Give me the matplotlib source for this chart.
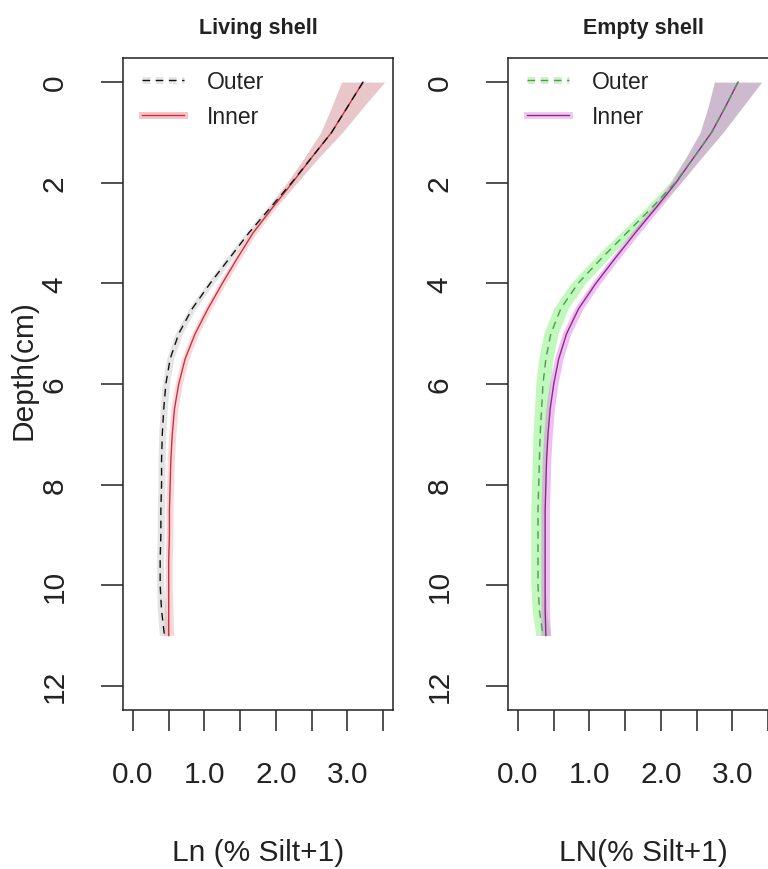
import matplotlib
matplotlib.use("Agg")
import matplotlib.pyplot as plt
from matplotlib.lines import Line2D
import matplotlib.patheffects as pe
import numpy as np

plt.rcParams['font.family'] = ['Liberation Sans', 'DejaVu Sans']

# Depth profile (cm)
depth = [0, 0.5, 1, 1.5, 2, 2.5, 3, 3.5, 4, 4.5, 5, 5.5,
         6, 6.5, 7, 7.5, 8, 8.5, 9, 9.5, 10, 10.5, 11]

# Living shell: fitted Ln(% silt + 1)
living_outer = [3.22, 3.00, 2.78, 2.50, 2.22, 1.92, 1.62, 1.35, 1.08, 0.83, 0.64, 0.52,
                0.46, 0.43, 0.41, 0.40, 0.40, 0.39, 0.39, 0.38, 0.38, 0.40, 0.44]
living_inner = [3.22, 3.00, 2.78, 2.50, 2.23, 1.95, 1.68, 1.46, 1.25, 1.05, 0.87, 0.73,
                0.64, 0.58, 0.55, 0.53, 0.52, 0.51, 0.51, 0.50, 0.50, 0.50, 0.50]
# Empty shell: fitted Ln(% silt + 1)
empty_outer = [3.08, 2.90, 2.71, 2.46, 2.20, 1.87, 1.52, 1.17, 0.84, 0.60, 0.46, 0.39,
               0.35, 0.33, 0.31, 0.30, 0.29, 0.28, 0.28, 0.28, 0.28, 0.30, 0.35]
empty_inner = [3.08, 2.90, 2.71, 2.46, 2.21, 1.93, 1.64, 1.36, 1.09, 0.85, 0.68, 0.57,
               0.50, 0.45, 0.42, 0.40, 0.39, 0.38, 0.38, 0.38, 0.38, 0.38, 0.39]

# Confidence band half-widths
living_outer_ci = [0.30, 0.22, 0.15, 0.10, 0.07, 0.05, 0.05, 0.05, 0.05, 0.05, 0.05, 0.05,
                   0.05, 0.05, 0.05, 0.05, 0.05, 0.05, 0.05, 0.05, 0.05, 0.06, 0.07]
living_inner_ci = [0.30, 0.22, 0.15, 0.10, 0.07, 0.05, 0.05, 0.05, 0.05, 0.05, 0.05, 0.05,
                   0.05, 0.05, 0.05, 0.05, 0.05, 0.05, 0.05, 0.05, 0.05, 0.06, 0.07]
empty_outer_ci = [0.33, 0.24, 0.16, 0.11, 0.08, 0.08, 0.09, 0.10, 0.10, 0.10, 0.10, 0.10,
                  0.10, 0.10, 0.10, 0.10, 0.10, 0.10, 0.10, 0.10, 0.10, 0.10, 0.10]
empty_inner_ci = [0.33, 0.24, 0.16, 0.11, 0.07, 0.06, 0.06, 0.06, 0.06, 0.06, 0.06, 0.06,
                  0.06, 0.06, 0.06, 0.06, 0.06, 0.06, 0.06, 0.06, 0.06, 0.06, 0.07]

x_ticks = [0, 0.5, 1, 1.5, 2, 2.5, 3, 3.5]
x_tick_labels = ["0.0", "", "1.0", "", "2.0", "", "3.0", ""]
y_ticks = [0, 2, 4, 6, 8, 10, 12]

W, H = 768, 870
fig = plt.figure(figsize=(W / 100, H / 100), dpi=100)

ax_w = 270 / W
ax_h = 652 / H
ax_b = 1 - 711 / H
ax1 = fig.add_axes([123 / W, ax_b, ax_w, ax_h])
ax2 = fig.add_axes([508 / W, ax_b, ax_w, ax_h])

DASH = (5.5, 4)
INK = '#222222'

panels = [
    (ax1, "Living shell", "Ln (% Silt+1)",
     living_outer, living_outer_ci, living_inner, living_inner_ci,
     "#111111", "#a8a8a8", 0.30, "#c8343e", "#f09aa2", 0.40,
     "#e6e6e6", "#f7c4c8"),
    (ax2, "Empty shell", "LN(% Silt+1)",
     empty_outer, empty_outer_ci, empty_inner, empty_inner_ci,
     "#4f9a5a", "#66ee55", 0.40, "#8a2a8a", "#e070e8", 0.45,
     "#c8f4c4", "#f2c8f0"),
]

d = np.asarray(depth)
for (ax, title, xlab, outer, outer_ci, inner, inner_ci,
     oc, obc, oba, ic, ibc, iba, ohalo, ihalo) in panels:
    o = np.asarray(outer); oci = np.asarray(outer_ci)
    i = np.asarray(inner); ici = np.asarray(inner_ci)
    ax.fill_betweenx(d, o - oci, o + oci, color=obc, alpha=oba, lw=0)
    ax.fill_betweenx(d, i - ici, i + ici, color=ibc, alpha=iba, lw=0)
    ax.plot(i, d, color=ic, lw=1.0)
    ax.plot(o, d, color=oc, lw=1.0, dashes=DASH)

    ax.set_xlim(-0.14, 3.64)
    ax.set_ylim(12.48, -0.48)
    ax.set_xticks(x_ticks)
    ax.set_xticklabels(x_tick_labels)
    ax.set_yticks(y_ticks)
    ax.tick_params(axis='x', direction='out', length=15, width=1.1,
                   pad=21, labelsize=21.5, colors=INK)
    ax.tick_params(axis='y', direction='out', length=16, width=1.1,
                   pad=23, labelsize=21.5, labelrotation=90, colors=INK)
    for lab in ax.get_yticklabels():
        lab.set_va('center')
    for s in ax.spines.values():
        s.set_linewidth(1.1)
        s.set_color(INK)

    ax.set_title(title, fontsize=15.5, fontweight='bold',
                 family=['Liberation Sans Narrow', 'Liberation Sans'],
                 pad=18, color=INK)
    ax.set_xlabel(xlab, fontsize=21.5, labelpad=36, color=INK)

    handles = [
        Line2D([], [], color=oc, lw=1.0, dashes=DASH,
               path_effects=[pe.Stroke(linewidth=5, foreground=ohalo), pe.Normal()]),
        Line2D([], [], color=ic, lw=1.0,
               path_effects=[pe.Stroke(linewidth=5, foreground=ihalo), pe.Normal()]),
    ]
    ax.legend(handles, ["Outer", "Inner"], loc='upper left',
              bbox_to_anchor=(0.035, 0.995), borderaxespad=0, frameon=False,
              fontsize=16.5, handlelength=1.85, handletextpad=1.0,
              labelspacing=0.5, labelcolor=INK)

fig.text(24 / W, 1 - 370 / H, "Depth(cm)", rotation=90, ha='center', va='center',
         fontsize=21.5, color=INK)

fig.savefig("out.png", dpi=100)
